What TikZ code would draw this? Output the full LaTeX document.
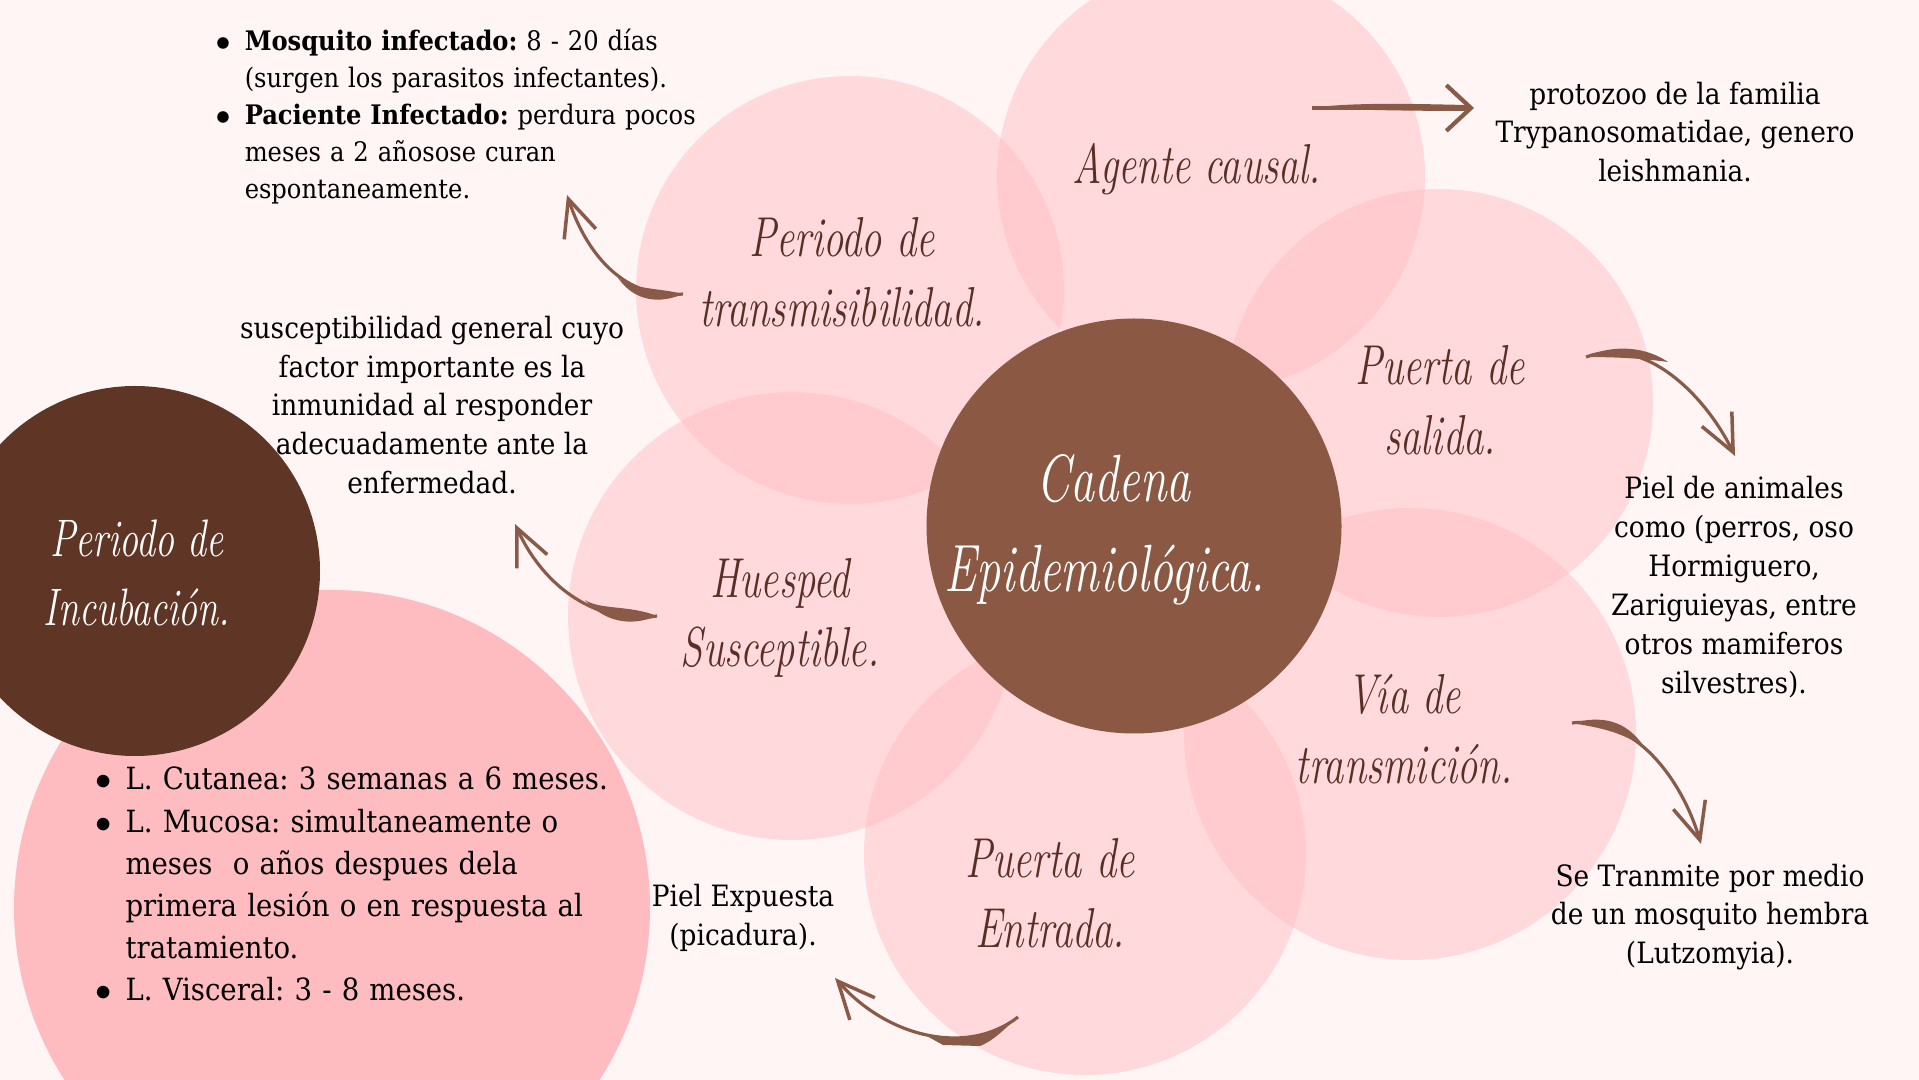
\documentclass[tikz,border=0pt]{standalone}
\usepackage{fontspec}
\setmainfont{DejaVu Serif Condensed}
\newfontfamily\scriptlabel{Latin Modern Roman}[FakeStretch=0.72]
\usetikzlibrary{arrows.meta}
\definecolor{bgcolor}{HTML}{FFF5F5}
\definecolor{petalcolor}{HTML}{FFBFC4}
\definecolor{bigpink}{HTML}{FEBCC0}
\definecolor{centerbrown}{HTML}{8B5844}
\definecolor{darkbrown}{HTML}{5F3626}
\definecolor{labelbrown}{HTML}{5A2E25}
\definecolor{arrowbrown}{HTML}{8A5A48}
\newenvironment{infolist}[2]{%
    \begin{list}{$\bullet$}{\setlength{\topsep}{0pt}\setlength{\partopsep}{0pt}\setlength{\itemsep}{0pt}\setlength{\parsep}{0pt}%
        \setlength{\leftmargin}{#1}\setlength{\labelsep}{#2}\setlength{\labelwidth}{6pt}}%
}{\end{list}}
\tikzset{
    petal/.style={fill=petalcolor, fill opacity=0.5},
    infotext/.style={font=\fontsize{8.35}{11.05}\selectfont, align=center, inner sep=0pt},
    listtext/.style={anchor=north west, inner sep=0pt, text width=#1},
    blabel/.style={font=\scriptlabel\itshape\fontsize{16}{19.8}\selectfont, align=center, text=labelbrown, inner sep=0pt},
    wlabel/.style={font=\scriptlabel\itshape\fontsize{19}{25.7}\selectfont, align=center, text=white, inner sep=0pt},
    swoosh/.style={draw=arrowbrown, line width=0.9pt, -{Straight Barb[length=10.5pt, width=9.5pt, line width=1pt]}},
    tail/.style={fill=arrowbrown}
}
\frenchspacing
\begin{document}
\begin{tikzpicture}[x=0.01cm, y=-0.01cm]
    \useasboundingbox (0, 0) rectangle (1919, 1080);
    \fill[bgcolor] (0, 0) rectangle (1919, 1080);

    \fill[bigpink] (332, 908) circle (318);
    \fill[petal] (1211, 177) circle (214);
    \fill[petal] (850, 290) circle (214);
    \fill[petal] (1439, 403) circle (214);
    \fill[petal] (1410, 734) circle (226);
    \fill[petal] (1085, 854) circle (221);
    \fill[petal] (792, 616) circle (224);
    \fill[centerbrown] (1134, 526) circle (207.5);
    \fill[darkbrown] (135, 571) circle (185);

    \node[wlabel] (cadena) at (1105, 530) {\hspace*{5pt}Cadena\\Epidemiológica.};
    \node[wlabel, font=\scriptlabel\itshape\fontsize{15}{19.8}\selectfont] (incubacion) at (137, 573) {Periodo de\\Incubación.};
    \node[blabel] (transmisibilidad) at (842, 272) {Periodo de\\transmisibilidad.};
    \node[blabel] (agente) at (1197, 169) {Agente causal.};
    \node[blabel] (salida) at (1440, 400) {Puerta de\\salida.};
    \node[blabel] (via) at (1404, 729) {Vía de\\transmición.};
    \node[blabel] (entrada) at (1050, 893) {Puerta de\\Entrada.};
    \node[blabel] (huesped) at (780, 618) {Huesped\\Susceptible.};

    \node[infotext] (protozoo) at (1675, 132) {protozoo de la familia\\Trypanosomatidae, genero\\leishmania.};
    \node[infotext] (piel) at (1734, 587) {Piel de animales\\como (perros, oso\\Hormiguero,\\Zariguieyas, entre\\otros mamiferos\\silvestres).};
    \node[infotext] (mosquito) at (1710, 917) {Se Tranmite por medio\\de un mosquito hembra\\(Lutzomyia).};
    \node[infotext] (expuesta) at (743, 918) {Piel Expuesta\\(picadura).};
    \node[infotext] (susceptibilidad) at (432, 405) {susceptibilidad general cuyo\\factor importante es la\\inmunidad al responder\\adecuadamente ante la\\enfermedad.};

    \node[listtext=155pt, font=\fontsize{7.65}{10.5}\selectfont] (paciente) at (224, 13) {%
        \begin{infolist}{5.7pt}{4pt}
            \item \textbf{Mosquito infectado:} 8 - 20 días\\(surgen los parasitos infectantes).
            \item \textbf{Paciente Infectado:} perdura pocos\\meses a 2 añosose curan\\espontaneamente.
        \end{infolist}};
    \node[listtext=160pt, font=\fontsize{8.7}{12}\selectfont] (cutanea) at (102, 747) {%
        \begin{infolist}{6.5pt}{4pt}
            \item L. Cutanea: 3 semanas a 6 meses.
            \item L. Mucosa: simultaneamente o\\meses\ \ o años despues dela\\primera lesión o en respuesta al\\tratamiento.
            \item L. Visceral: 3 - 8 meses.
        \end{infolist}};

    \coordinate (agenteStart) at (1312, 108);
    \coordinate (agenteEnd) at (1474, 108);
    \coordinate (salidaStart) at (1586, 357);
    \coordinate (salidaEnd) at (1735, 456);
    \coordinate (viaStart) at (1572, 723);
    \coordinate (viaEnd) at (1701, 844);
    \coordinate (entradaStart) at (1018, 1017);
    \coordinate (entradaEnd) at (835, 978);
    \coordinate (huespedStart) at (657, 616);
    \coordinate (huespedEnd) at (515, 524);
    \coordinate (periodoStart) at (683, 294);
    \coordinate (periodoEnd) at (567, 195);

    \draw[swoosh, -{Straight Barb[length=7pt, width=13pt, line width=1.2pt]}] (agenteStart) -- (agenteEnd);
    \fill[tail] (agenteStart) .. controls (1350, 102) and (1420, 104) .. (1465, 105) -- (1465, 111) .. controls (1420, 111) and (1350, 110) .. (agenteStart);

    \draw[swoosh] (salidaStart) .. controls (1645, 335) and (1705, 395) .. (salidaEnd);
    \fill[tail] (salidaStart) .. controls (1605, 347) and (1640, 343) .. (1668, 362) .. controls (1640, 358) and (1610, 357) .. (salidaStart);

    \draw[swoosh] (viaStart) .. controls (1635, 715) and (1682, 780) .. (viaEnd);
    \fill[tail] (viaStart) .. controls (1600, 716) and (1625, 718) .. (1645, 748) .. controls (1620, 731) and (1600, 728) .. (viaStart);

    \draw[swoosh] (entradaStart) .. controls (970, 1055) and (890, 1040) .. (entradaEnd);
    \fill[tail] (entradaStart) .. controls (1000, 1027) and (985, 1035) .. (960, 1038) -- (925, 1035) -- (943, 1045) -- (980, 1046) .. controls (995, 1040) and (1005, 1028) .. (entradaStart);

    \draw[swoosh] (huespedStart) .. controls (600, 625) and (545, 590) .. (huespedEnd);
    \fill[tail] (huespedStart) .. controls (630, 605) and (600, 610) .. (585, 600) .. controls (605, 622) and (630, 627) .. (huespedStart);

    \draw[swoosh] (periodoStart) .. controls (625, 300) and (587, 255) .. (periodoEnd);
    \fill[tail] (periodoStart) .. controls (660, 288) and (635, 290) .. (618, 278) .. controls (635, 302) and (660, 304) .. (periodoStart);
\end{tikzpicture}
\end{document}
